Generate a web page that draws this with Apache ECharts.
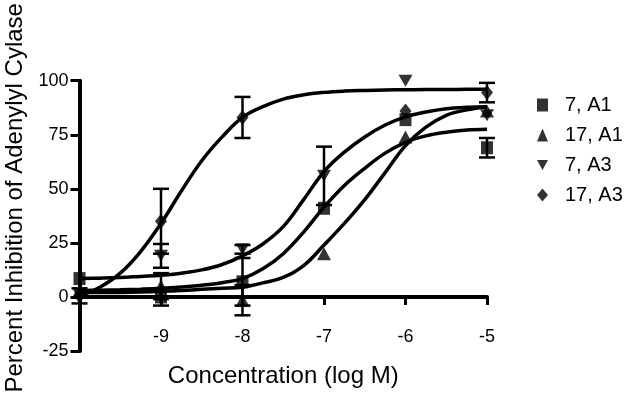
<!DOCTYPE html>
<html>
<head>
<meta charset="utf-8">
<script src="https://cdn.jsdelivr.net/npm/echarts@6/dist/echarts.min.js"></script>
<style>
  body { margin: 0; background: #fff; }
  #chart { width: 626px; height: 411px; }
</style>
</head>
<body>
<div id="chart"></div>
<script>
// measured points (log M)
var doses = [-10, -9, -8, -7, -6, -5];
var seriesNames = ['7, A1', '17, A1', '7, A3', '17, A3'];

var a1_7 = [8.5, 0, 7, 41, 82, 69];
var a1_7_err = [0, 4, 11, 0, 0, 4.5];
var a1_17 = [3, 5, -1.5, 20, 74, 86];
var a1_17_err = [0, 6, 7, 0, 0, 0];
var a3_7 = [1, 19, 22, 56, 100, 84];
var a3_7_err = [0, 5.5, 2, 13.5, 0, 0];
var a3_17 = [0.5, 35, 83, null, 86, 94.5];
var a3_17_err = [3.5, 15, 9.5, 0, 0, 4.5];

// fitted curves
var fitX = [-10, -9.75, -9.5, -9.25, -9, -8.75, -8.5, -8.25, -8, -7.75, -7.5,
            -7.25, -7, -6.75, -6.5, -6.25, -6, -5.75, -5.5, -5.25, -5];
var fit_a1_7 = [3, 3.1, 3.3, 3.6, 4, 4.6, 5.4, 6.6, 8.5, 13, 20,
                30, 41.5, 51.5, 59.5, 66.5, 71.5, 74.5, 76.2, 77.2, 77.6];
var fit_a1_17 = [2, 2, 2.1, 2.3, 2.6, 3, 3.5, 4, 4.5, 6.5, 9,
                 14.5, 24, 34, 45, 57.5, 70, 78.5, 84, 86.5, 88];
var fit_a3_7 = [8.5, 8.7, 9, 9.5, 10, 11, 12.5, 15, 19, 24.5, 32.5,
                45, 58, 67, 74, 79.5, 83.3, 85.5, 87, 87.7, 88];
var fit_a3_17 = [0.5, 4.5, 11, 21, 34, 49, 63, 74, 83, 88, 91.5,
                 93.5, 94.6, 95.2, 95.5, 95.7, 95.8, 95.9, 95.9, 96, 96];

var yTicks = [-25, 0, 25, 50, 75, 100];

var font = "'Liberation Sans', Arial, sans-serif";
var downTri = 'path://M0,0L12,0L6,11Z';

function pts(xs, ys) {
  var out = [];
  for (var i = 0; i < xs.length; i++) {
    if (ys[i] !== null) out.push([xs[i], ys[i]]);
  }
  return out;
}

function errPts(ys, errs) {
  var out = [];
  for (var i = 0; i < doses.length; i++) {
    if (ys[i] !== null && errs[i] > 0) out.push([doses[i], ys[i] - errs[i], ys[i] + errs[i]]);
  }
  return out;
}

function errBars(ys, errs) {
  return {
    type: 'custom',
    data: errPts(ys, errs),
    z: 3,
    renderItem: function (params, api) {
      var lo = api.coord([api.value(0), api.value(1)]);
      var hi = api.coord([api.value(0), api.value(2)]);
      var st = { stroke: '#000', lineWidth: 2.5 };
      return {
        type: 'group',
        children: [
          { type: 'line', shape: { x1: lo[0], y1: lo[1], x2: hi[0], y2: hi[1] }, style: st },
          { type: 'line', shape: { x1: lo[0] - 8, y1: lo[1], x2: lo[0] + 8, y2: lo[1] }, style: st },
          { type: 'line', shape: { x1: hi[0] - 8, y1: hi[1], x2: hi[0] + 8, y2: hi[1] }, style: st }
        ]
      };
    }
  };
}

function fitLine(name, ys) {
  return {
    name: name,
    type: 'line',
    data: pts(fitX, ys),
    showSymbol: false,
    smooth: 0.4,
    lineStyle: { color: '#000', width: 3.5 },
    z: 2,
    silent: true
  };
}

function marks(name, ys, symbol, size) {
  return {
    name: name,
    type: 'scatter',
    data: pts(doses, ys),
    symbol: symbol,
    symbolSize: size,
    itemStyle: { color: '#000' },
    z: 4
  };
}

var chart = echarts.init(document.getElementById('chart'));

chart.setOption({
  animation: false,
  backgroundColor: '#fff',
  textStyle: { fontFamily: font, color: '#000' },
  grid: { left: 79.5, right: 139, top: 80.7, bottom: 60, containLabel: false, outerBoundsMode: 'none' },
  legend: {
    orient: 'vertical',
    left: 532,
    top: 90,
    itemWidth: 11,
    itemHeight: 13,
    itemGap: 10,
    selectedMode: false,
    textStyle: { fontFamily: font, fontSize: 20, color: '#000', lineHeight: 20, padding: [0, 0, 0, 12] },
    data: [
      { name: seriesNames[0], icon: 'rect' },
      { name: seriesNames[1], icon: 'triangle' },
      { name: seriesNames[2], icon: downTri },
      { name: seriesNames[3], icon: 'diamond' }
    ]
  },
  xAxis: {
    type: 'value',
    min: -10,
    max: -5,
    interval: 1,
    name: 'Concentration (log M)',
    nameLocation: 'middle',
    nameGap: 13,
    nameTextStyle: { fontFamily: font, fontSize: 24, color: '#000' },
    axisLine: { onZero: true, lineStyle: { color: '#000', width: 4 } },
    axisTick: { length: 8, lineStyle: { color: '#000', width: 3 } },
    axisLabel: {
      margin: -23,
      fontSize: 18,
      color: '#000',
      fontFamily: font,
      formatter: function (v) { return v === -10 ? '' : String(v); }
    },
    splitLine: { show: false }
  },
  yAxis: {
    type: 'value',
    min: yTicks[0],
    max: yTicks[yTicks.length - 1],
    interval: 25,
    name: 'Percent Inhibition of Adenylyl Cylase',
    nameLocation: 'middle',
    nameGap: 37,
    nameTextStyle: { fontFamily: font, fontSize: 24, color: '#000', padding: [0, 0, 0, 36] },
    axisLine: { show: true, lineStyle: { color: '#000', width: 4 } },
    axisTick: { show: true, length: 9, lineStyle: { color: '#000', width: 3 } },
    axisLabel: { margin: 11, fontSize: 18, color: '#000', fontFamily: font },
    splitLine: { show: false }
  },
  series: [
    fitLine('fit 7, A1', fit_a1_7),
    fitLine('fit 17, A1', fit_a1_17),
    fitLine('fit 7, A3', fit_a3_7),
    fitLine('fit 17, A3', fit_a3_17),
    errBars(a1_7, a1_7_err),
    errBars(a1_17, a1_17_err),
    errBars(a3_7, a3_7_err),
    errBars(a3_17, a3_17_err),
    marks(seriesNames[0], a1_7, 'rect', [12, 13]),
    marks(seriesNames[1], a1_17, 'triangle', [14, 13]),
    marks(seriesNames[2], a3_7, downTri, [14, 12]),
    marks(seriesNames[3], a3_17, 'diamond', [12, 15])
  ]
});
</script>
</body>
</html>
